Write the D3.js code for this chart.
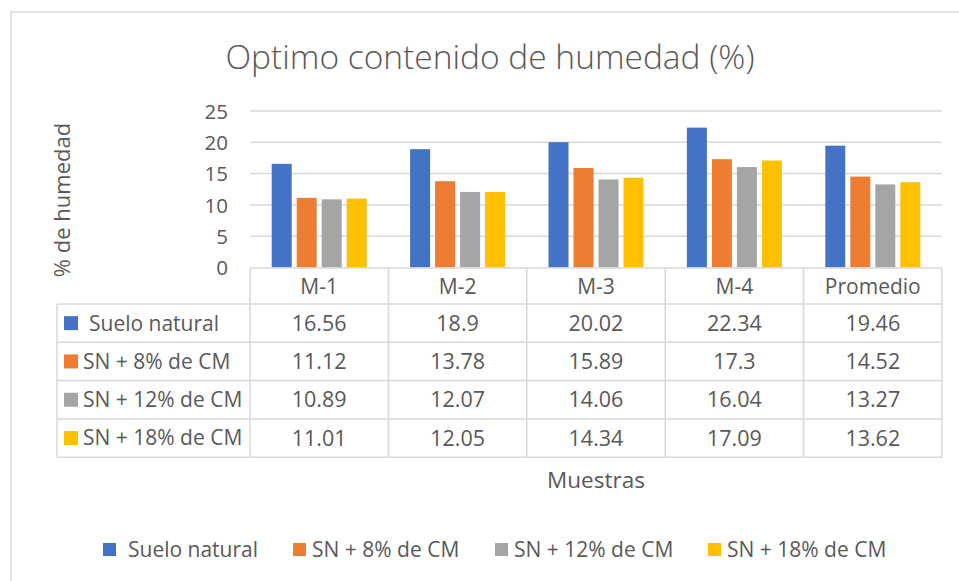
<!DOCTYPE html>
<html><head><meta charset="utf-8">
<script src="https://cdn.jsdelivr.net/npm/d3@7"></script>
<style>
body{margin:0;background:#fff;}
text{font-family:"Open Sans",sans-serif;fill:#595959;}
</style></head>
<body><svg id="c" width="959" height="581"></svg>
<script>
const categories = ["M-1","M-2","M-3","M-4","Promedio"];
const seriesNames = ["Suelo natural","SN + 8% de CM","SN + 12% de CM","SN + 18% de CM"];
const suelo = [16.56,18.9,20.02,22.34,19.46];
const sn8 = [11.12,13.78,15.89,17.3,14.52];
const sn12 = [10.89,12.07,14.06,16.04,13.27];
const sn18 = [11.01,12.05,14.34,17.09,13.62];
const yTicks = [0,5,10,15,20,25];
const colors = ["#4472C4","#ED7D31","#A5A5A5","#FFC000"];
const title = "Optimo contenido de humedad (%)";
const yTitle = "% de humedad";
const xTitle = "Muestras";

const values = [suelo, sn8, sn12, sn18];
const svg = d3.select("#c");

// chart border
svg.append("rect").attr("x",11).attr("y",12).attr("width",960).attr("height",580)
  .attr("fill","#fff").attr("stroke","#d9d9d9").attr("stroke-width",1.5);

svg.append("text").attr("x",490).attr("y",69).attr("text-anchor","middle")
  .style("font-size","33.5px").style("font-weight","300").text(title);

const x0 = d3.scaleBand().domain(categories).range([250,942]);
const x1 = d3.scaleBand().domain(d3.range(4))
  .range([(x0.bandwidth()-95)/2,(x0.bandwidth()+95)/2]).paddingInner(0.2);
const y = d3.scaleLinear().domain([0,25]).range([267.5,111]);

// gridlines
svg.append("g").selectAll("line").data(yTicks.filter(d=>d>0)).join("line")
  .attr("x1",250).attr("x2",942).attr("y1",d=>y(d)).attr("y2",d=>y(d))
  .attr("stroke","#d9d9d9").attr("stroke-width",1.5);

// y axis labels
const yAxis = d3.axisLeft(y).tickValues(yTicks).tickSize(0).tickPadding(0);
const ya = svg.append("g").attr("transform","translate(228,0)").call(yAxis);
ya.select(".domain").remove();
ya.selectAll("text").style("font-size","20.5px").attr("fill","#595959")
  .attr("font-family","Open Sans").attr("dy","0.35em");

// bars
const g = svg.append("g");
categories.forEach((c,ci)=>{
  values.forEach((vals,si)=>{
    g.append("rect").attr("x",x0(c)+x1(si)).attr("width",x1.bandwidth())
      .attr("y",y(vals[ci])).attr("height",y(0)-y(vals[ci])).attr("fill",colors[si]);
  });
});

// data table
const rowTop = 304, rowH = 38.3, headTop = 268;
const lineC = "#d9d9d9";
const t = svg.append("g");
t.append("line").attr("x1",250).attr("x2",942).attr("y1",headTop).attr("y2",headTop).attr("stroke",lineC).attr("stroke-width",1.5);
d3.range(5).forEach(i=>{
  t.append("line").attr("x1",57).attr("x2",942).attr("y1",rowTop+i*rowH).attr("y2",rowTop+i*rowH)
    .attr("stroke",lineC).attr("stroke-width",1.5);
});
const vx = categories.map(c=>x0(c)).concat([x0.range()[1]]);
vx.forEach(xv=>{
  t.append("line").attr("x1",xv).attr("x2",xv).attr("y1",headTop).attr("y2",rowTop+4*rowH)
    .attr("stroke",lineC).attr("stroke-width",1.5);
});
t.append("line").attr("x1",57).attr("x2",57).attr("y1",rowTop).attr("y2",rowTop+4*rowH)
  .attr("stroke",lineC).attr("stroke-width",1.5);
categories.forEach(c=>{
  t.append("text").attr("x",x0(c)+x0.bandwidth()/2).attr("y",(headTop+rowTop)/2+1).attr("dy","0.35em")
    .attr("text-anchor","middle").style("font-size","21px").text(c);
});
seriesNames.forEach((s,si)=>{
  const cy = rowTop + si*rowH + rowH/2;
  t.append("rect").attr("x",64).attr("y",cy-7).attr("width",14).attr("height",14).attr("fill",colors[si]);
  t.append("text").attr("x",si===0?89:83).attr("y",cy).attr("dy","0.35em")
    .style("font-size","21px").text(s);
  values[si].forEach((v,ci)=>{
    t.append("text").attr("x",x0(categories[ci])+x0.bandwidth()/2).attr("y",cy).attr("dy","0.35em")
      .attr("text-anchor","middle").style("font-size","21.5px").text(v);
  });
});

// axis titles
svg.append("text").attr("transform","translate(62,200) rotate(-90)").attr("text-anchor","middle")
  .attr("dy","0.35em").style("font-size","22px").text(yTitle);
svg.append("text").attr("x",596).attr("y",480).attr("text-anchor","middle").attr("dy","0.35em")
  .style("font-size","22.5px").text(xTitle);

// legend
const legX = [103,293,495,708];
const lg = svg.append("g");
seriesNames.forEach((s,i)=>{
  lg.append("rect").attr("x",legX[i]).attr("y",543).attr("width",13).attr("height",13).attr("fill",colors[i]);
  lg.append("text").attr("x",legX[i]+(i===0?25:19)).attr("y",549.5).attr("dy","0.35em")
    .style("font-size","21px").text(s);
});
</script></body></html>
